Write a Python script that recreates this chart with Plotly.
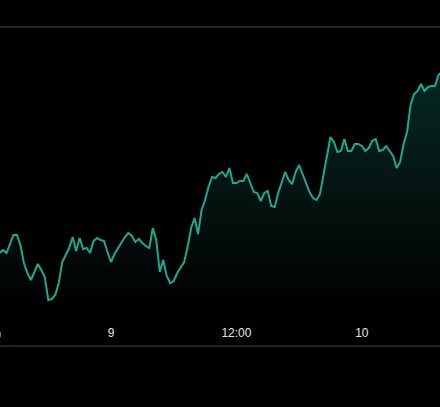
import pandas as pd
import plotly.graph_objects as go

# 20-minute price series, starting 2024-01-08 13:20
start_time = "2024-01-08 13:20"
step_minutes = 20
prices = [
    46.7, 47.0, 46.7, 47.7, 48.5, 48.5, 47.5, 45.7, 44.7, 44.0,
    44.9, 45.6, 45.0, 44.3, 42.0, 42.1, 42.5, 43.7, 45.8, 46.5,
    47.2, 48.3, 46.9, 48.2, 47.1, 47.2, 46.7, 47.9, 48.2, 48.0,
    47.9, 46.8, 45.8, 46.6, 47.2, 47.7, 48.3, 48.7, 48.4, 47.8,
    48.1, 47.7, 47.4, 47.2, 49.2, 48.0, 44.8, 46.0, 44.4, 43.7,
    43.9, 44.7, 45.2, 45.8, 47.3, 49.2, 50.2, 48.6, 51.0, 52.0,
    53.3, 54.3, 54.2, 54.6, 54.8, 54.3, 55.2, 53.7, 53.7, 53.9,
    53.9, 54.6, 53.7, 52.8, 52.7, 51.9, 52.7, 52.9, 51.4, 51.3,
    52.7, 53.8, 54.8, 54.0, 53.6, 54.8, 55.5, 54.6, 53.7, 52.8,
    52.2, 52.0, 52.6, 54.5, 56.5, 58.3, 57.8, 56.8, 56.9, 58.1,
    56.9, 56.9, 57.6, 57.6, 57.4, 56.9, 57.2, 57.9, 58.1, 56.9,
    57.0, 57.4, 56.9, 56.4, 55.2, 55.8, 57.6, 58.8, 61.5, 62.6,
    62.9, 63.6, 62.9, 63.3, 63.4, 63.4, 64.5, 64.8,
]
times = pd.date_range(start=start_time, periods=len(prices), freq=f"{step_minutes}min")

tick_vals = ["2024-01-09 00:00", "2024-01-09 12:00", "2024-01-10 00:00"]
tick_text = ["9", "12:00", "10"]
x_range = ["2024-01-08 13:22:40", "2024-01-10 07:29:00"]
y_range = [39.8, 69.3]

line_color = "rgb(30,168,145)"
label_color = "#e6e6e6"

fig = go.Figure()
fig.add_trace(go.Scatter(
    x=times, y=prices, mode="lines",
    line=dict(color=line_color, width=2),
    fill="tozeroy",
    fillgradient=dict(
        type="vertical",
        start=41.0, stop=65.0,
        colorscale=[[0, "rgba(30,168,145,0)"], [1, "rgba(30,168,145,0.24)"]],
    ),
    hoverinfo="skip",
))

fig.update_layout(
    width=440, height=407,
    paper_bgcolor="#000000", plot_bgcolor="#000000",
    margin=dict(l=0, r=0, t=27, b=85),
    showlegend=False,
    font=dict(family="Liberation Sans, Arial, sans-serif", size=12, color=label_color),
    xaxis=dict(
        type="date", range=x_range, showgrid=False, zeroline=False,
        showline=False, tickvals=tick_vals, ticktext=tick_text,
        ticks="", ticklabelstandoff=2,
        tickfont=dict(size=12, color=label_color),
        fixedrange=True,
    ),
    yaxis=dict(range=y_range, showgrid=False, zeroline=False, showline=False,
               showticklabels=False, fixedrange=True),
    shapes=[
        dict(type="line", xref="paper", yref="paper", x0=0, x1=1, y0=1, y1=1,
             line=dict(color="#2f2f2f", width=1.5)),
        dict(type="line", xref="paper", yref="paper", x0=0, x1=1, y0=-0.0814, y1=-0.0814,
             line=dict(color="#2f2f2f", width=1.5)),
    ],
    annotations=[
        dict(text="12:00", xref="paper", yref="paper", x=-0.0325, y=-0.0441,
             xanchor="center", yanchor="middle", showarrow=False,
             font=dict(size=12, color=label_color)),
    ],
)

fig.write_html("out.html")
